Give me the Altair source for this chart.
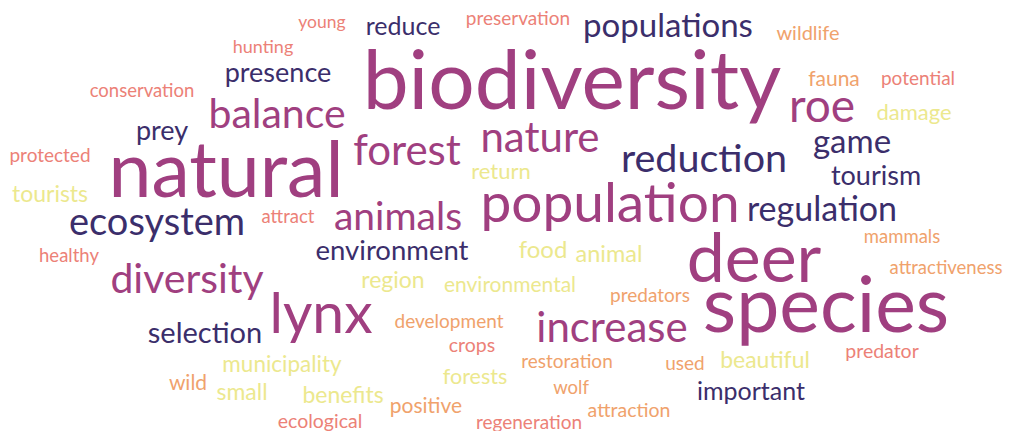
import altair as alt
import pandas as pd

words = ["biodiversity", "natural", "deer", "species", "population", "lynx", "increase", "roe",
         "balance", "forest", "nature", "animals", "diversity", "reduction", "ecosystem",
         "populations", "game", "regulation", "selection", "environment", "presence", "prey",
         "reduce", "tourism", "important",
         "young", "hunting", "conservation", "protected", "tourists", "attract", "healthy",
         "preservation", "wildlife", "fauna", "potential", "damage", "return", "food", "animal",
         "region", "environmental", "mammals", "attractiveness", "predators", "development",
         "crops", "municipality", "wild", "small", "benefits", "ecological", "positive",
         "forests", "restoration", "wolf", "attraction", "regeneration", "used", "beautiful",
         "predator"]

weight = [82, 77, 68, 77, 55, 57, 42, 46,
          41, 42, 42, 39, 41, 39.5, 38,
          33, 33, 34, 29, 27.5, 27, 27,
          25, 27, 25,
          17.5, 18, 18.5, 19, 23, 18.5, 18.5,
          19, 20, 21, 19, 22, 22, 24, 23.5,
          23, 21, 18.5, 18.5, 19, 19,
          19.5, 22.5, 21, 23, 23, 19.5, 21,
          21.5, 19, 18.5, 19.5, 19, 19, 23,
          19.5]

pos_x = [572, 226, 754, 826, 610, 321, 612, 822,
         277, 407, 540, 398, 187, 704, 157,
         668, 852, 822, 205, 392, 278, 162,
         403, 876, 751,
         322, 263, 142, 50, 50, 288, 69,
         518, 808, 834, 918, 914, 501, 543, 609,
         393, 510, 902, 946, 650, 449,
         472, 282, 188, 242, 343, 320, 426,
         475, 567, 571, 629, 529, 685, 765,
         882]

pos_y = [109, 197, 282, 332, 222, 333, 342, 122,
         128, 165, 152, 230, 293, 172, 235,
         37, 153, 221, 343, 260, 82, 140,
         35, 185, 400,
         28, 53, 97, 162, 202, 223, 262,
         25, 40, 86, 85, 120, 179, 258, 262,
         288, 292, 243, 274, 302, 328,
         352, 372, 390, 400, 403, 428, 413,
         384, 368, 394, 417, 429, 370, 368,
         358]

group = ["purple", "purple", "purple", "purple", "purple", "purple", "purple", "purple",
         "purple", "purple", "purple", "purple", "purple", "navy", "navy",
         "navy", "navy", "navy", "navy", "navy", "navy", "navy",
         "navy", "navy", "navy",
         "salmon", "salmon", "salmon", "salmon", "yellow", "salmon", "salmon",
         "salmon", "orange", "orange", "salmon", "yellow", "yellow", "yellow", "yellow",
         "yellow", "yellow", "orange", "orange", "orange", "orange",
         "salmon", "yellow", "orange", "yellow", "yellow", "salmon", "orange",
         "yellow", "orange", "orange", "orange", "salmon", "orange", "yellow",
         "salmon"]

groups = ["navy", "purple", "salmon", "orange", "yellow"]
palette = ["#3b2e6b", "#a03f80", "#ec8177", "#f0a26c", "#ece88e"]

df = pd.DataFrame({"word": words, "weight": weight, "x": pos_x, "y": pos_y, "group": group})

chart = alt.Chart(df).mark_text(
    font="Lato", align="center", baseline="alphabetic"
).encode(
    x=alt.X("x:Q", axis=None, scale=alt.Scale(domain=[8, 1003], nice=False, zero=False)),
    y=alt.Y("y:Q", axis=None, scale=alt.Scale(domain=[8, 431], nice=False, zero=False, reverse=True)),
    size=alt.Size("weight:Q", legend=None, scale=alt.Scale(domain=[0, 100], range=[0, 100], zero=True)),
    color=alt.Color("group:N", legend=None, scale=alt.Scale(domain=groups, range=palette)),
    text="word:N",
).properties(
    width=995, height=423, padding=0,
    autosize=alt.AutoSizeParams(type="none"),
).configure_view(stroke=None)

chart.save("out.html", embed_options={"renderer": "svg", "actions": False})
